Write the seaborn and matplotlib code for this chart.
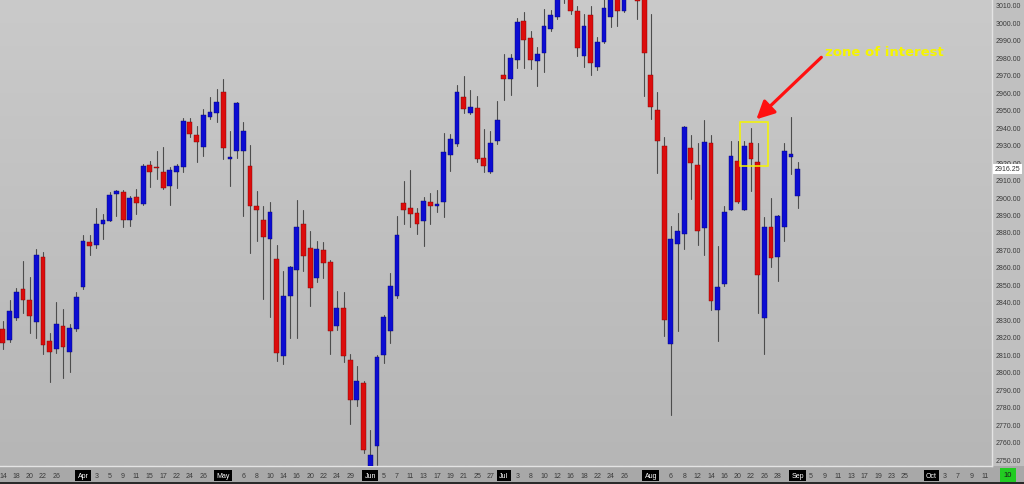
import numpy as np
import pandas as pd
import matplotlib
matplotlib.use("Agg")
import matplotlib.pyplot as plt
import seaborn as sns
from matplotlib.patches import Rectangle
from matplotlib.colors import LinearSegmentedColormap

# DATA (daily futures bars)

first_day = "2019-03-14"
last_day = "2019-10-11"
holidays = ["2019-04-19", "2019-05-27", "2019-07-04", "2019-09-02"]

opens = [
    2824.3, 2818.0, 2830.5, 2847.1, 2840.8, 2828.3, 2865.4, 2817.4, 2812.8, 2826.0, 2811.1, 2824.3,
    2848.3, 2874.0, 2872.8, 2884.8, 2886.5, 2902.0, 2903.1, 2887.1, 2900.3, 2896.3, 2918.5,
    2917.4, 2914.5, 2906.5, 2914.5, 2917.4, 2943.1, 2935.7, 2928.8, 2946.0, 2948.3,
    2960.3, 2922.0, 2926.5, 2926.5, 2918.0, 2895.1, 2887.1, 2875.7, 2864.3, 2808.8, 2843.1,
    2858.0, 2884.8, 2870.6, 2853.4, 2869.4, 2862.6, 2826.0, 2836.3, 2806.5, 2783.7, 2793.4,
    2738.0, 2757.4, 2809.4, 2823.1, 2843.1, 2896.8, 2894.0, 2891.1, 2886.0, 2897.4,
    2895.1, 2897.4, 2924.3, 2930.6, 2957.4, 2948.3, 2951.1, 2922.6, 2914.5, 2932.3,
    2970.0, 2967.7, 2978.5, 3000.8, 2991.1, 2978.0, 2982.5, 2996.3, 3003.1, 3019.0, 3021.0,
    3006.6, 2980.8, 3004.3, 2974.6, 2988.8, 3003.1, 3018.0, 3006.6, 3021.0, 3026.0, 3016.0,
    2970.0, 2950.0, 2929.4, 2815.7, 2873.4, 2878.6, 2928.3, 2918.5, 2882.0, 2931.1, 2835.1,
    2850.0, 2892.8, 2920.8, 2892.8, 2931.1, 2920.3, 2830.5, 2882.6, 2865.4, 2883.1, 2923.1,
    2900.8,
]
highs = [
    2828.8, 2840.9, 2847.7, 2863.1, 2854.0, 2870.0, 2868.8, 2822.0, 2839.7, 2835.7, 2827.1, 2845.4,
    2878.0, 2878.0, 2894.0, 2890.5, 2903.1, 2904.3, 2904.3, 2900.8, 2904.8, 2919.1, 2920.8,
    2926.5, 2928.8, 2917.4, 2919.1, 2945.4, 2945.4, 2940.8, 2950.5, 2957.4, 2962.0,
    2967.7, 2938.0, 2954.5, 2943.1, 2930.0, 2903.7, 2895.1, 2897.4, 2872.8, 2857.4, 2860.8,
    2898.5, 2892.3, 2880.3, 2875.1, 2874.0, 2863.7, 2846.0, 2845.4, 2810.0, 2803.1, 2794.5,
    2766.6, 2809.4, 2832.3, 2856.3, 2889.4, 2909.4, 2915.7, 2894.0, 2900.3, 2902.5,
    2904.3, 2936.8, 2936.3, 2964.3, 2969.4, 2961.4, 2958.0, 2939.1, 2938.0, 2955.1,
    2982.0, 2982.0, 3002.5, 3006.0, 2995.1, 2986.0, 3007.7, 3007.1, 3020.0, 3027.0, 3025.0,
    3009.4, 3004.8, 3009.4, 2991.7, 3015.0, 3021.0, 3024.0, 3026.0, 3030.0, 3030.0, 3022.0,
    3005.0, 2960.3, 2934.5, 2883.7, 2891.1, 2940.8, 2935.7, 2931.1, 2944.3, 2935.7, 2871.7,
    2894.6, 2932.3, 2932.3, 2932.3, 2939.7, 2931.1, 2888.3, 2899.7, 2890.0, 2931.1, 2946.0,
    2920.3,
]
lows = [
    2812.8, 2816.8, 2829.4, 2833.4, 2822.0, 2819.1, 2810.0, 2794.0, 2810.6, 2796.3, 2799.7, 2823.1,
    2847.1, 2867.1, 2870.6, 2875.7, 2886.0, 2889.4, 2882.6, 2883.7, 2890.5, 2895.7, 2906.0,
    2910.5, 2904.8, 2895.7, 2905.4, 2914.5, 2934.5, 2920.3, 2923.7, 2944.8, 2943.1,
    2922.0, 2906.5, 2922.6, 2889.4, 2867.7, 2874.6, 2841.4, 2831.1, 2806.0, 2804.3, 2819.1,
    2819.1, 2857.4, 2837.4, 2851.1, 2853.4, 2810.0, 2823.7, 2805.4, 2770.0, 2780.3, 2753.4,
    2728.0, 2744.0, 2804.8, 2816.3, 2842.0, 2884.3, 2883.1, 2879.1, 2871.7, 2884.3,
    2891.7, 2888.8, 2915.1, 2929.4, 2948.3, 2947.7, 2920.3, 2914.5, 2914.0, 2930.6,
    2955.7, 2958.5, 2974.0, 2974.0, 2973.4, 2963.7, 2971.7, 2995.1, 3002.0, 3011.0, 3004.8,
    2980.8, 2974.6, 2970.0, 2972.8, 2988.3, 2997.4, 2998.0, 3006.0, 3015.0, 3002.0, 2958.0,
    2944.8, 2914.0, 2820.3, 2775.1, 2823.1, 2870.0, 2899.1, 2872.8, 2866.6, 2835.1, 2817.4,
    2848.8, 2892.3, 2896.8, 2892.3, 2903.7, 2833.4, 2810.0, 2859.7, 2851.7, 2875.1, 2913.4,
    2894.0,
]
closes = [
    2816.3, 2834.6, 2845.4, 2840.8, 2831.7, 2867.1, 2815.1, 2811.1, 2827.1, 2814.0, 2824.8, 2842.5,
    2875.1, 2871.7, 2884.3, 2887.1, 2901.4, 2903.7, 2887.1, 2899.7, 2896.8, 2918.0, 2914.5,
    2916.5, 2905.4, 2915.7, 2918.0, 2943.7, 2936.3, 2931.7, 2947.1, 2948.8, 2954.5,
    2928.3, 2923.1, 2954.0, 2938.0, 2895.1, 2892.3, 2877.4, 2891.7, 2810.5, 2843.1, 2859.7,
    2883.1, 2866.0, 2847.7, 2870.0, 2862.0, 2823.1, 2836.3, 2808.8, 2783.7, 2794.5, 2755.1,
    2752.3, 2808.3, 2831.1, 2848.8, 2878.0, 2892.8, 2890.5, 2884.8, 2898.0, 2894.6,
    2895.7, 2926.0, 2933.4, 2960.3, 2950.5, 2951.7, 2922.0, 2918.0, 2931.1, 2944.3,
    2967.7, 2979.7, 3000.3, 2990.0, 2978.5, 2982.0, 2998.0, 3004.3, 3015.5, 3020.0, 3006.6,
    2985.4, 2998.0, 2976.8, 2988.8, 3008.3, 3017.0, 3006.6, 3022.0, 3027.0, 3012.3, 2982.5,
    2951.7, 2932.3, 2829.4, 2875.7, 2880.3, 2940.3, 2919.7, 2880.3, 2931.7, 2840.3, 2848.3,
    2891.7, 2923.7, 2897.4, 2929.4, 2922.0, 2855.1, 2883.1, 2864.9, 2889.4, 2926.6, 2924.8,
    2916.25,
]

day_ticks = [
    "2019-03-14", "2019-03-18", "2019-03-20", "2019-03-22", "2019-03-26",
    "2019-04-03", "2019-04-05", "2019-04-09", "2019-04-11", "2019-04-15", "2019-04-17",
    "2019-04-22", "2019-04-24", "2019-04-26",
    "2019-05-06", "2019-05-08", "2019-05-10", "2019-05-14", "2019-05-16", "2019-05-20",
    "2019-05-22", "2019-05-24", "2019-05-29",
    "2019-06-05", "2019-06-07", "2019-06-11", "2019-06-13", "2019-06-17", "2019-06-19",
    "2019-06-21", "2019-06-25", "2019-06-27",
    "2019-07-03", "2019-07-08", "2019-07-10", "2019-07-12", "2019-07-16", "2019-07-18",
    "2019-07-22", "2019-07-24", "2019-07-26",
    "2019-08-06", "2019-08-08", "2019-08-12", "2019-08-14", "2019-08-16", "2019-08-20",
    "2019-08-22", "2019-08-26", "2019-08-28",
    "2019-09-05", "2019-09-09", "2019-09-11", "2019-09-13", "2019-09-17", "2019-09-19",
    "2019-09-23", "2019-09-25",
    "2019-10-03", "2019-10-07", "2019-10-09", "2019-10-11",
]
month_ticks = ["2019-04-01", "2019-05-01", "2019-06-03", "2019-07-01",
               "2019-08-01", "2019-09-03", "2019-10-01"]
month_names = ["Apr", "May", "Jun", "Jul", "Aug", "Sep", "Oct"]

zone_dates = ["2019-08-21", "2019-08-23"]
zone_low = 2918.0
zone_high = 2943.0
zone_text = "zone of interest"

# TRADING CALENDAR

days = pd.bdate_range(first_day, last_day)
days = days[~days.isin(pd.to_datetime(holidays))]
pos_of = pd.Series(np.arange(len(days)), index=days)

bars = pd.DataFrame({
    "date": days[:len(opens)],
    "open": opens,
    "high": highs,
    "low": lows,
    "close": closes,
})
bars["pos"] = pos_of[bars["date"]].values
bars["up"] = bars["close"] >= bars["open"]

wicks = pd.concat([
    bars[["pos"]].assign(price=bars["high"]),
    bars[["pos"]].assign(price=bars["low"]),
])

# STYLE

sns.set_theme(style="white")
plt.rcParams["font.family"] = ["Liberation Sans", "DejaVu Sans"]

RED = "#dc0c0c"
BLUE = "#0c0cd2"

fig = plt.figure(figsize=(10.24, 4.85), dpi=100, facecolor="#c0c0c0")
ax = fig.add_axes([0, 18 / 485, 992 / 1024, 467 / 485])

# background gradient
bg = LinearSegmentedColormap.from_list("bg", ["#cacaca", "#b6b6b6"])
ax.imshow(np.linspace(0, 1, 256).reshape(-1, 1), cmap=bg, extent=[0, 1, 0, 1],
          transform=ax.transAxes, aspect="auto", zorder=0)

# CANDLES

sns.lineplot(
    data=wicks,
    x="pos",
    y="price",
    units="pos",
    estimator=None,
    color="#4d4d4d",
    linewidth=0.8,
    ax=ax,
    zorder=2,
)

body_low = np.minimum(bars["open"], bars["close"])
body_h = np.maximum((bars["close"] - bars["open"]).abs(), 0.9)
ax.bar(
    bars["pos"],
    body_h,
    bottom=body_low,
    width=0.72,
    color=np.where(bars["up"], BLUE, RED),
    edgecolor=np.where(bars["up"], "#06066e", "#7a0606"),
    linewidth=0.3,
    zorder=3,
)

# AXES

first_pos = pos_of[pd.Timestamp("2019-04-01")]
ax.set_xlim(first_pos - 12.43, first_pos + 136.08)
ax.set_ylim(2746.0, 3013.4)

ax.yaxis.tick_right()
ax.set_yticks(np.arange(2750, 3011, 10))
ax.yaxis.set_major_formatter("{x:.2f}")
ax.tick_params(axis="y", length=0, pad=2.5, labelsize=5, labelcolor="#3a3a3a")

tick_dates = pd.to_datetime(day_ticks + month_ticks)
tick_labels = [str(d.day) for d in pd.to_datetime(day_ticks)] + month_names
ax.set_xticks(pos_of[tick_dates].values)
ax.set_xticklabels(tick_labels)
ax.tick_params(axis="x", length=0, pad=4.5, labelsize=5, labelcolor="#3a3a3a")
for lab in ax.get_xticklabels():
    if lab.get_text() in month_names:
        lab.set_color("white")
        lab.set_bbox(dict(facecolor="black", edgecolor="none", pad=1.6))

ax.set_xlabel("")
ax.set_ylabel("")
for side in ["left", "top"]:
    ax.spines[side].set_visible(False)
for side in ["right", "bottom"]:
    ax.spines[side].set_color("#e4e4e4")
    ax.spines[side].set_linewidth(1.0)

# last price tag
ax.annotate(
    f"{closes[-1]:.2f}",
    xy=(1, closes[-1]),
    xycoords=("axes fraction", "data"),
    xytext=(2, 0),
    textcoords="offset points",
    ha="left",
    va="center",
    fontsize=5,
    color="#333333",
    bbox=dict(boxstyle="square,pad=0.2", facecolor="white", edgecolor="none"),
    annotation_clip=False,
    zorder=5,
)

# ZONE OF INTEREST

z0 = pos_of[pd.Timestamp(zone_dates[0])] - 0.65
z1 = pos_of[pd.Timestamp(zone_dates[1])] + 1.5
ax.add_patch(Rectangle((z0, zone_low), z1 - z0, zone_high - zone_low,
                       fill=False, edgecolor="#f5f500", linewidth=1.1, zorder=4))

tip = (pos_of[pd.Timestamp("2019-08-22")] + 0.8, zone_high + 1.5)
ax.annotate(
    "",
    xy=tip,
    xytext=(65, 62),
    textcoords="offset pixels",
    arrowprops=dict(arrowstyle="-|>,head_length=0.9,head_width=0.45",
                    color="#ff1010", lw=2.3, shrinkA=0, shrinkB=0),
    zorder=5,
)
ax.annotate(
    zone_text,
    xy=tip,
    xytext=(69, 68),
    textcoords="offset pixels",
    ha="left",
    va="center",
    fontsize=9.5,
    fontweight="bold",
    family=["DejaVu Sans"],
    color="#f5f500",
    zorder=5,
)

# FRAME EXTRAS

fig.patches.append(Rectangle((0, 0), 1, 18 / 485, transform=fig.transFigure,
                             facecolor="#a8a8a8", edgecolor="none", zorder=-1))
fig.patches.append(Rectangle((0, 0), 1, 2 / 485, transform=fig.transFigure,
                             facecolor="#2a2a2a", edgecolor="none", zorder=-1))
fig.text(1008 / 1024, 9 / 485, "10", ha="center", va="center", fontsize=5.5,
         color="#1a1a1a",
         bbox=dict(boxstyle="square,pad=0.45", facecolor="#22cc22", edgecolor="none"))

fig.savefig("out.png", dpi=100, facecolor=fig.get_facecolor())
